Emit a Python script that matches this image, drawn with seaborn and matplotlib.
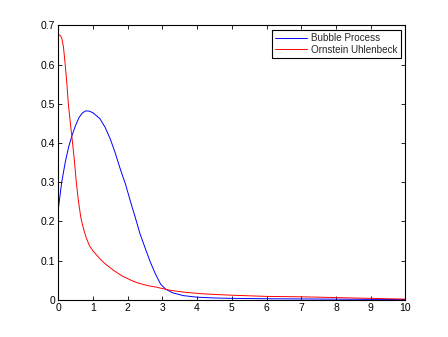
import numpy as np
import pandas as pd
import matplotlib
matplotlib.use("Agg")
import matplotlib.pyplot as plt
from matplotlib.ticker import FormatStrFormatter
import seaborn as sns

# values
bubble_x = [0, 0.1, 0.2, 0.3, 0.4, 0.5, 0.6, 0.7, 0.8, 0.9, 1.0, 1.2, 1.35, 1.5, 1.64,
            1.8, 1.93, 2.1, 2.22, 2.35, 2.5, 2.65, 2.8, 2.95, 3.1, 3.3, 3.6, 4.0, 4.5,
            5, 6, 7, 8, 9, 10]
bubble_y = [0.23, 0.30, 0.35, 0.39, 0.42, 0.445, 0.465, 0.477, 0.482, 0.481, 0.477, 0.462,
            0.44, 0.41, 0.375, 0.33, 0.297, 0.245, 0.21, 0.17, 0.133, 0.097, 0.066, 0.04,
            0.027, 0.018, 0.011, 0.007, 0.005, 0.004, 0.003, 0.0025, 0.002, 0.0015, 0.001]

ou_x = [0, 0.05, 0.1, 0.15, 0.2, 0.25, 0.29, 0.35, 0.4, 0.46, 0.52, 0.58, 0.65, 0.72, 0.8,
        0.9, 1.0, 1.2, 1.35, 1.6, 1.84, 2.1, 2.3, 2.6, 2.8, 3.2, 3.6, 4.1, 4.5, 5, 6, 7,
        8, 9, 10]
ou_y = [0.675, 0.675, 0.668, 0.645, 0.6, 0.55, 0.5, 0.45, 0.41, 0.36, 0.30, 0.253, 0.21,
        0.184, 0.16, 0.138, 0.125, 0.105, 0.092, 0.075, 0.061, 0.05, 0.043, 0.036, 0.033,
        0.025, 0.02, 0.016, 0.014, 0.012, 0.009, 0.008, 0.006, 0.004, 0.002]

sns.set_theme(style="white")
plt.rcParams['font.family'] = ['Liberation Sans', 'DejaVu Sans']
plt.rcParams['xtick.direction'] = 'in'
plt.rcParams['ytick.direction'] = 'in'

fig = plt.figure(figsize=(4.48, 3.37), dpi=100)
ax = fig.add_axes([0.13, 0.11, 0.775, 0.815])

sns.lineplot(x=bubble_x, y=bubble_y, color='#0000ff', lw=0.7, sort=False,
             label='Bubble Process', ax=ax)
sns.lineplot(x=ou_x, y=ou_y, color='#ff0000', lw=0.7, sort=False,
             label='Ornstein Uhlenbeck', ax=ax)

ax.set_xlim(0, 10)
ax.set_ylim(0, 0.7)
ax.set_xticks(np.arange(0, 11, 1))
ax.set_yticks(np.arange(0, 0.71, 0.1))
ax.yaxis.set_major_formatter(FormatStrFormatter('%g'))
ax.tick_params(axis='both', which='both', labelsize=7.5, length=3, width=0.6,
               top=True, right=True, bottom=True, left=True, pad=2, colors='black')
for s in ax.spines.values():
    s.set_color('black')
    s.set_linewidth(0.8)

leg = ax.legend(loc='upper right', fontsize=7.1, fancybox=False, framealpha=1,
                edgecolor='black', borderaxespad=0.5, handlelength=3.3,
                labelspacing=0.15, borderpad=0.3, handletextpad=0.4)
leg.get_frame().set_linewidth(0.8)

fig.savefig('out.png', dpi=100)
